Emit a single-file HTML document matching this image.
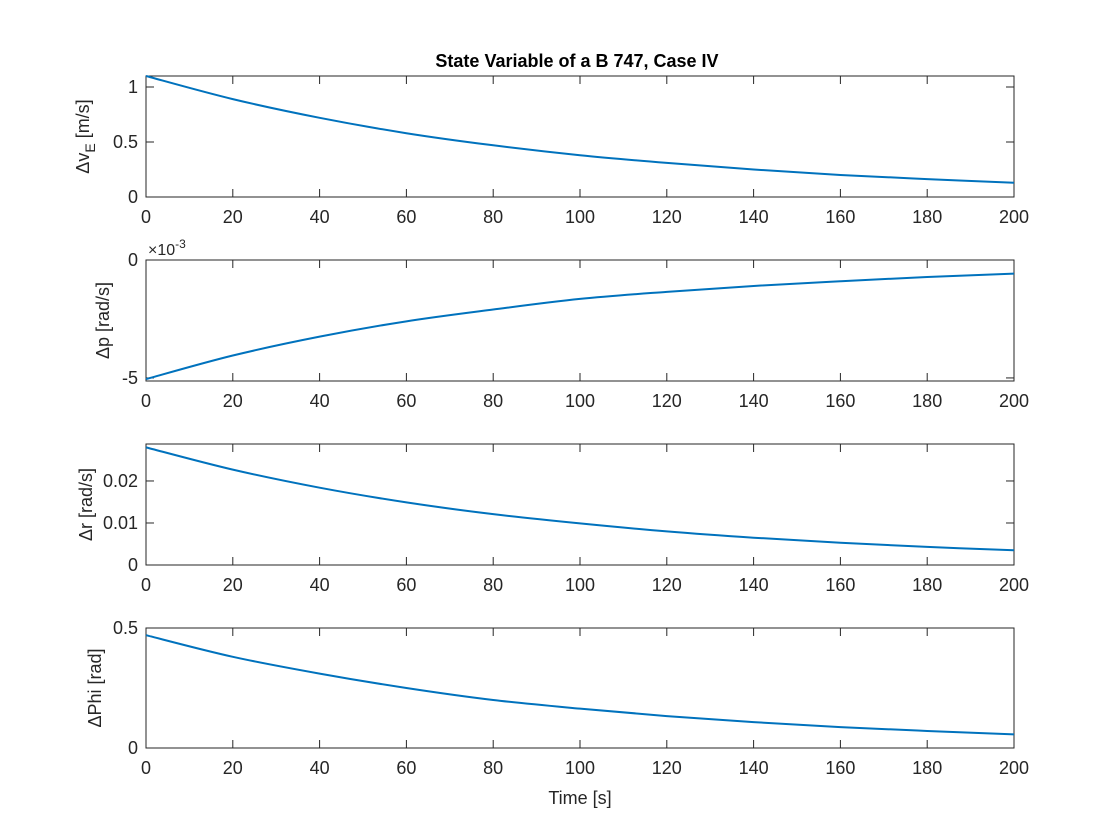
<!DOCTYPE html>
<html><head><meta charset="utf-8"><style>
body{margin:0;background:#fff;}
svg{display:block;font-family:"Liberation Sans",sans-serif;}
</style></head><body>
<svg id="fig" width="1120" height="840">
<text x="577" y="67" text-anchor="middle" font-size="18" font-weight="bold" fill="#000">State Variable of a B 747, Case IV</text>
<text x="580" y="804" text-anchor="middle" font-size="18" fill="#262626">Time [s]</text>
</svg>
<script>
const times = [0,20,40,60,80,100,120,140,160,180,200];
const vE = [1.1,0.89,0.72,0.58,0.47,0.38,0.31,0.25,0.20,0.163,0.13];
const pRate = [-5.05,-4.05,-3.25,-2.6,-2.1,-1.65,-1.35,-1.1,-0.9,-0.72,-0.58];
const rRate = [0.028,0.0227,0.0184,0.0149,0.0121,0.0099,0.008,0.0065,0.0053,0.0043,0.0035];
const phi = [0.47,0.38,0.31,0.25,0.20,0.164,0.133,0.108,0.087,0.071,0.057];
const xTicks = [0,20,40,60,80,100,120,140,160,180,200];
const yTicks1 = [0,0.5,1];
const yTicks2 = [-5,0];
const yTicks3 = [0,0.01,0.02];
const yTicks4 = [0,0.5];
const NS='http://www.w3.org/2000/svg';
const svg=document.getElementById('fig');
const L=146,R=1014;
function mk(t,a){const e=document.createElementNS(NS,t);for(const k in a)e.setAttribute(k,a[k]);return e;}
function panel(top,bot,ymin,ymax,vals,yt,fmt,label,name,labX){
  const g=mk('g',{});
  
  
  svg.appendChild(g);
  const sx=v=>L+(v-0)/(200-0)*(R-L);
  const sy=v=>bot-(v-ymin)/(ymax-ymin)*(bot-top);
  const box=mk('rect',{x:L,y:top,width:R-L,height:bot-top,fill:'#fff',stroke:'#262626','stroke-width':1});
  
  
  g.appendChild(box);
  xTicks.forEach(t=>{
    const x=sx(t);
    g.appendChild(mk('line',{x1:x,x2:x,y1:bot,y2:bot-8,stroke:'#262626'}));
    g.appendChild(mk('line',{x1:x,x2:x,y1:top,y2:top+8,stroke:'#262626'}));
    const tx=mk('text',{x:x,y:bot+26,'text-anchor':'middle','font-size':18,fill:'#262626'});
    tx.textContent=t;
    
    
    g.appendChild(tx);
  });
  yt.forEach(t=>{
    const y=sy(t);
    g.appendChild(mk('line',{x1:L,x2:L+8,y1:y,y2:y,stroke:'#262626'}));
    g.appendChild(mk('line',{x1:R,x2:R-8,y1:y,y2:y,stroke:'#262626'}));
    const tx=mk('text',{x:L-8,y:y+6,'text-anchor':'end','font-size':18,fill:'#262626'});
    tx.textContent=fmt(t);
    
    
    g.appendChild(tx);
  });
  const pts=times.map((t,i)=>[sx(t),sy(vals[i])]);
  let d='M'+pts[0][0]+','+pts[0][1];
  for(let i=0;i<pts.length-1;i++){
    const p0=pts[Math.max(0,i-1)],p1=pts[i],p2=pts[i+1],p3=pts[Math.min(pts.length-1,i+2)];
    d+=' C'+(p1[0]+(p2[0]-p0[0])/6)+','+(p1[1]+(p2[1]-p0[1])/6)+' '+(p2[0]-(p3[0]-p1[0])/6)+','+(p2[1]-(p3[1]-p1[1])/6)+' '+p2[0]+','+p2[1];
  }
  const path=mk('path',{d:d,fill:'none',stroke:'#0072BD','stroke-width':2});
  
  
  g.appendChild(path);
  const cy=(top+bot)/2;
  const lab=mk('text',{x:0,y:0,'text-anchor':'middle','font-size':18,fill:'#262626',transform:'translate('+labX+','+cy+') rotate(-90)'});
  lab.innerHTML=label;
  
  
  g.appendChild(lab);
  return g;
}
panel(76,197,0,1.1,vE,yTicks1,v=>String(v),'Δv<tspan font-size="14" dy="6">E</tspan><tspan dy="-6"> [m/s]</tspan>','ve',89);
const g2=panel(260,381,-5.13,0,pRate,yTicks2,v=>String(v),'Δp [rad/s]','p',109);
const ex=mk('text',{x:148,y:255,'font-size':16,fill:'#262626'});
ex.innerHTML='×10<tspan font-size="12" dy="-7">-3</tspan>';


g2.appendChild(ex);
panel(444,565,0,0.0288,rRate,yTicks3,v=>String(v),'Δr [rad/s]','r',92);
panel(628,748,0,0.5,phi,yTicks4,v=>String(v),'ΔPhi [rad]','phi',101);
</script>
</body></html>
